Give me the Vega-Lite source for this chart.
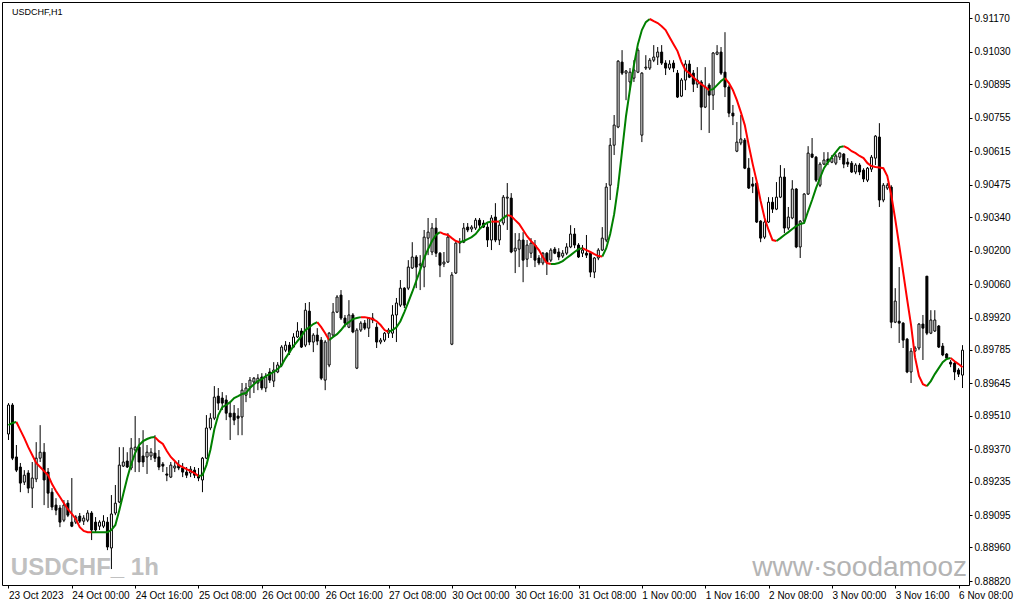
{
"$schema": "https://vega.github.io/schema/vega-lite/v6.json",
"width": 967, "height": 583,
"autosize": {"type": "none"},
"padding": {"left": 2, "top": 2, "right": 46, "bottom": 20},
"background": "white",
"config": {"view": {"stroke": "#000000", "strokeWidth": 1}, "font": "Liberation Sans",
"axis": {"labelOverlap": false, "labelBound": false, "labelFlush": false, "grid": false, "domain": false}},
"datasets": {
"candles": [
{"i":0,"o":0.89434,"h":0.89563,"l":0.89409,"c":0.89555},
{"i":1,"o":0.89555,"h":0.89563,"l":0.89325,"c":0.89333},
{"i":2,"o":0.89338,"h":0.89388,"l":0.89275,"c":0.89283},
{"i":3,"o":0.89296,"h":0.89313,"l":0.89191,"c":0.89229},
{"i":4,"o":0.89233,"h":0.89283,"l":0.89221,"c":0.89262},
{"i":5,"o":0.89271,"h":0.89283,"l":0.89187,"c":0.89208},
{"i":6,"o":0.89208,"h":0.89317,"l":0.89125,"c":0.89250},
{"i":7,"o":0.89246,"h":0.89400,"l":0.89233,"c":0.89333},
{"i":8,"o":0.89333,"h":0.89471,"l":0.89317,"c":0.89358},
{"i":9,"o":0.89358,"h":0.89396,"l":0.89137,"c":0.89242},
{"i":10,"o":0.89275,"h":0.89292,"l":0.89125,"c":0.89187},
{"i":11,"o":0.89191,"h":0.89208,"l":0.89116,"c":0.89129},
{"i":12,"o":0.89137,"h":0.89166,"l":0.89095,"c":0.89116},
{"i":13,"o":0.89125,"h":0.89137,"l":0.89045,"c":0.89066},
{"i":14,"o":0.89074,"h":0.89158,"l":0.89066,"c":0.89137},
{"i":15,"o":0.89145,"h":0.89158,"l":0.89087,"c":0.89095},
{"i":16,"o":0.89066,"h":0.89250,"l":0.89045,"c":0.89049},
{"i":17,"o":0.89066,"h":0.89095,"l":0.89058,"c":0.89087},
{"i":18,"o":0.89091,"h":0.89104,"l":0.89062,"c":0.89070},
{"i":19,"o":0.89070,"h":0.89095,"l":0.89054,"c":0.89083},
{"i":20,"o":0.89074,"h":0.89116,"l":0.89066,"c":0.89104},
{"i":21,"o":0.89104,"h":0.89112,"l":0.88991,"c":0.89033},
{"i":22,"o":0.89066,"h":0.89087,"l":0.89024,"c":0.89033},
{"i":23,"o":0.89049,"h":0.89074,"l":0.89033,"c":0.89066},
{"i":24,"o":0.89049,"h":0.89095,"l":0.89041,"c":0.89070},
{"i":25,"o":0.89066,"h":0.89087,"l":0.88949,"c":0.88962},
{"i":26,"o":0.88958,"h":0.89179,"l":0.88870,"c":0.89100},
{"i":27,"o":0.89104,"h":0.89221,"l":0.89095,"c":0.89145},
{"i":28,"o":0.89150,"h":0.89379,"l":0.89145,"c":0.89304},
{"i":29,"o":0.89300,"h":0.89379,"l":0.89296,"c":0.89317},
{"i":30,"o":0.89321,"h":0.89358,"l":0.89292,"c":0.89296},
{"i":31,"o":0.89292,"h":0.89417,"l":0.89283,"c":0.89375},
{"i":32,"o":0.89367,"h":0.89509,"l":0.89275,"c":0.89379},
{"i":33,"o":0.89379,"h":0.89417,"l":0.89275,"c":0.89317},
{"i":34,"o":0.89342,"h":0.89450,"l":0.89296,"c":0.89317},
{"i":35,"o":0.89338,"h":0.89388,"l":0.89267,"c":0.89358},
{"i":36,"o":0.89342,"h":0.89375,"l":0.89325,"c":0.89358},
{"i":37,"o":0.89354,"h":0.89429,"l":0.89317,"c":0.89333},
{"i":38,"o":0.89338,"h":0.89367,"l":0.89283,"c":0.89296},
{"i":39,"o":0.89308,"h":0.89317,"l":0.89275,"c":0.89300},
{"i":40,"o":0.89267,"h":0.89296,"l":0.89237,"c":0.89262},
{"i":41,"o":0.89254,"h":0.89317,"l":0.89250,"c":0.89304},
{"i":42,"o":0.89292,"h":0.89317,"l":0.89275,"c":0.89300},
{"i":43,"o":0.89304,"h":0.89325,"l":0.89283,"c":0.89292},
{"i":44,"o":0.89292,"h":0.89313,"l":0.89254,"c":0.89275},
{"i":45,"o":0.89275,"h":0.89296,"l":0.89250,"c":0.89262},
{"i":46,"o":0.89271,"h":0.89300,"l":0.89254,"c":0.89287},
{"i":47,"o":0.89283,"h":0.89296,"l":0.89250,"c":0.89262},
{"i":48,"o":0.89262,"h":0.89292,"l":0.89237,"c":0.89250},
{"i":49,"o":0.89242,"h":0.89338,"l":0.89191,"c":0.89333},
{"i":50,"o":0.89333,"h":0.89513,"l":0.89329,"c":0.89459},
{"i":51,"o":0.89459,"h":0.89521,"l":0.89450,"c":0.89500},
{"i":52,"o":0.89500,"h":0.89634,"l":0.89492,"c":0.89588},
{"i":53,"o":0.89592,"h":0.89626,"l":0.89534,"c":0.89563},
{"i":54,"o":0.89584,"h":0.89609,"l":0.89534,"c":0.89563},
{"i":55,"o":0.89576,"h":0.89596,"l":0.89492,"c":0.89521},
{"i":56,"o":0.89521,"h":0.89567,"l":0.89409,"c":0.89505},
{"i":57,"o":0.89521,"h":0.89555,"l":0.89471,"c":0.89492},
{"i":58,"o":0.89509,"h":0.89542,"l":0.89429,"c":0.89500},
{"i":59,"o":0.89505,"h":0.89647,"l":0.89429,"c":0.89617},
{"i":60,"o":0.89596,"h":0.89647,"l":0.89567,"c":0.89626},
{"i":61,"o":0.89630,"h":0.89672,"l":0.89584,"c":0.89659},
{"i":62,"o":0.89651,"h":0.89672,"l":0.89605,"c":0.89667},
{"i":63,"o":0.89647,"h":0.89684,"l":0.89617,"c":0.89667},
{"i":64,"o":0.89672,"h":0.89688,"l":0.89617,"c":0.89626},
{"i":65,"o":0.89626,"h":0.89688,"l":0.89609,"c":0.89672},
{"i":66,"o":0.89693,"h":0.89709,"l":0.89647,"c":0.89659},
{"i":67,"o":0.89655,"h":0.89734,"l":0.89630,"c":0.89701},
{"i":68,"o":0.89693,"h":0.89734,"l":0.89688,"c":0.89722},
{"i":69,"o":0.89722,"h":0.89805,"l":0.89713,"c":0.89797},
{"i":70,"o":0.89784,"h":0.89822,"l":0.89776,"c":0.89805},
{"i":71,"o":0.89805,"h":0.89818,"l":0.89764,"c":0.89776},
{"i":72,"o":0.89797,"h":0.89855,"l":0.89793,"c":0.89839},
{"i":73,"o":0.89839,"h":0.89901,"l":0.89835,"c":0.89864},
{"i":74,"o":0.89864,"h":0.89876,"l":0.89793,"c":0.89797},
{"i":75,"o":0.89805,"h":0.89981,"l":0.89797,"c":0.89951},
{"i":76,"o":0.89947,"h":0.89985,"l":0.89805,"c":0.89818},
{"i":77,"o":0.89818,"h":0.89855,"l":0.89776,"c":0.89847},
{"i":78,"o":0.89847,"h":0.89876,"l":0.89805,"c":0.89822},
{"i":79,"o":0.89826,"h":0.89839,"l":0.89659,"c":0.89667},
{"i":80,"o":0.89659,"h":0.89826,"l":0.89617,"c":0.89818},
{"i":81,"o":0.89722,"h":0.89860,"l":0.89713,"c":0.89855},
{"i":82,"o":0.89847,"h":0.89981,"l":0.89839,"c":0.89943},
{"i":83,"o":0.89943,"h":0.90014,"l":0.89939,"c":0.90006},
{"i":84,"o":0.90014,"h":0.90035,"l":0.89910,"c":0.89918},
{"i":85,"o":0.89918,"h":0.89931,"l":0.89880,"c":0.89897},
{"i":86,"o":0.89880,"h":0.89993,"l":0.89876,"c":0.89931},
{"i":87,"o":0.89931,"h":0.89939,"l":0.89855,"c":0.89860},
{"i":88,"o":0.89709,"h":0.89876,"l":0.89705,"c":0.89868},
{"i":89,"o":0.89868,"h":0.89905,"l":0.89860,"c":0.89897},
{"i":90,"o":0.89897,"h":0.89910,"l":0.89868,"c":0.89876},
{"i":91,"o":0.89876,"h":0.89922,"l":0.89839,"c":0.89918},
{"i":92,"o":0.89918,"h":0.89939,"l":0.89897,"c":0.89910},
{"i":93,"o":0.89880,"h":0.89897,"l":0.89793,"c":0.89818},
{"i":94,"o":0.89818,"h":0.89835,"l":0.89809,"c":0.89826},
{"i":95,"o":0.89826,"h":0.89860,"l":0.89818,"c":0.89855},
{"i":96,"o":0.89855,"h":0.89876,"l":0.89835,"c":0.89868},
{"i":97,"o":0.89855,"h":0.89972,"l":0.89835,"c":0.89931},
{"i":98,"o":0.89931,"h":0.90002,"l":0.89818,"c":0.89981},
{"i":99,"o":0.89972,"h":0.90077,"l":0.89964,"c":0.90043},
{"i":100,"o":0.90043,"h":0.90047,"l":0.89960,"c":0.89972},
{"i":101,"o":0.90043,"h":0.90160,"l":0.90035,"c":0.90131},
{"i":102,"o":0.90127,"h":0.90235,"l":0.90123,"c":0.90173},
{"i":103,"o":0.90173,"h":0.90181,"l":0.90043,"c":0.90131},
{"i":104,"o":0.90139,"h":0.90181,"l":0.90035,"c":0.90144},
{"i":105,"o":0.90131,"h":0.90286,"l":0.90047,"c":0.90256},
{"i":106,"o":0.90252,"h":0.90336,"l":0.90181,"c":0.90277},
{"i":107,"o":0.90194,"h":0.90315,"l":0.90181,"c":0.90294},
{"i":108,"o":0.90294,"h":0.90336,"l":0.90173,"c":0.90189},
{"i":109,"o":0.90189,"h":0.90194,"l":0.90089,"c":0.90139},
{"i":110,"o":0.90144,"h":0.90194,"l":0.90131,"c":0.90152},
{"i":111,"o":0.90152,"h":0.90273,"l":0.90148,"c":0.90256},
{"i":112,"o":0.89809,"h":0.90110,"l":0.89805,"c":0.90098},
{"i":113,"o":0.90106,"h":0.90235,"l":0.90102,"c":0.90231},
{"i":114,"o":0.90231,"h":0.90252,"l":0.90189,"c":0.90235},
{"i":115,"o":0.90235,"h":0.90315,"l":0.90231,"c":0.90294},
{"i":116,"o":0.90298,"h":0.90315,"l":0.90277,"c":0.90286},
{"i":117,"o":0.90290,"h":0.90306,"l":0.90277,"c":0.90298},
{"i":118,"o":0.90294,"h":0.90336,"l":0.90286,"c":0.90327},
{"i":119,"o":0.90327,"h":0.90336,"l":0.90294,"c":0.90306},
{"i":120,"o":0.90315,"h":0.90327,"l":0.90294,"c":0.90298},
{"i":121,"o":0.90298,"h":0.90315,"l":0.90215,"c":0.90244},
{"i":122,"o":0.90244,"h":0.90348,"l":0.90202,"c":0.90336},
{"i":123,"o":0.90340,"h":0.90398,"l":0.90235,"c":0.90244},
{"i":124,"o":0.90244,"h":0.90319,"l":0.90223,"c":0.90306},
{"i":125,"o":0.90315,"h":0.90432,"l":0.90306,"c":0.90423},
{"i":126,"o":0.90419,"h":0.90482,"l":0.90286,"c":0.90423},
{"i":127,"o":0.90419,"h":0.90440,"l":0.90189,"c":0.90194},
{"i":128,"o":0.90198,"h":0.90273,"l":0.90106,"c":0.90210},
{"i":129,"o":0.90206,"h":0.90273,"l":0.90131,"c":0.90244},
{"i":130,"o":0.90244,"h":0.90277,"l":0.90068,"c":0.90160},
{"i":131,"o":0.90164,"h":0.90244,"l":0.90131,"c":0.90223},
{"i":132,"o":0.90189,"h":0.90252,"l":0.90169,"c":0.90231},
{"i":133,"o":0.90223,"h":0.90244,"l":0.90131,"c":0.90160},
{"i":134,"o":0.90169,"h":0.90181,"l":0.90139,"c":0.90148},
{"i":135,"o":0.90148,"h":0.90194,"l":0.90139,"c":0.90189},
{"i":136,"o":0.90189,"h":0.90194,"l":0.90098,"c":0.90152},
{"i":137,"o":0.90160,"h":0.90210,"l":0.90152,"c":0.90202},
{"i":138,"o":0.90206,"h":0.90215,"l":0.90185,"c":0.90189},
{"i":139,"o":0.90194,"h":0.90210,"l":0.90160,"c":0.90173},
{"i":140,"o":0.90177,"h":0.90202,"l":0.90169,"c":0.90189},
{"i":141,"o":0.90189,"h":0.90231,"l":0.90181,"c":0.90215},
{"i":142,"o":0.90215,"h":0.90306,"l":0.90210,"c":0.90269},
{"i":143,"o":0.90269,"h":0.90294,"l":0.90210,"c":0.90223},
{"i":144,"o":0.90223,"h":0.90231,"l":0.90169,"c":0.90173},
{"i":145,"o":0.90189,"h":0.90223,"l":0.90173,"c":0.90202},
{"i":146,"o":0.90189,"h":0.90265,"l":0.90169,"c":0.90181},
{"i":147,"o":0.90189,"h":0.90194,"l":0.90089,"c":0.90110},
{"i":148,"o":0.90110,"h":0.90173,"l":0.90085,"c":0.90169},
{"i":149,"o":0.90169,"h":0.90210,"l":0.90160,"c":0.90202},
{"i":150,"o":0.90202,"h":0.90298,"l":0.90198,"c":0.90252},
{"i":151,"o":0.90244,"h":0.90482,"l":0.90235,"c":0.90465},
{"i":152,"o":0.90473,"h":0.90670,"l":0.90411,"c":0.90640},
{"i":153,"o":0.90640,"h":0.90766,"l":0.90599,"c":0.90724},
{"i":154,"o":0.90716,"h":0.90995,"l":0.90711,"c":0.90991},
{"i":155,"o":0.90987,"h":0.91037,"l":0.90933,"c":0.90941},
{"i":156,"o":0.90941,"h":0.90954,"l":0.90828,"c":0.90950},
{"i":157,"o":0.90904,"h":0.90962,"l":0.90870,"c":0.90945},
{"i":158,"o":0.90920,"h":0.90995,"l":0.90904,"c":0.90954},
{"i":159,"o":0.90945,"h":0.91046,"l":0.90941,"c":0.91037},
{"i":160,"o":0.90682,"h":0.90945,"l":0.90653,"c":0.90941},
{"i":161,"o":0.90962,"h":0.91016,"l":0.90954,"c":0.90966},
{"i":162,"o":0.90962,"h":0.91004,"l":0.90954,"c":0.90995},
{"i":163,"o":0.90995,"h":0.91058,"l":0.90987,"c":0.91008},
{"i":164,"o":0.91008,"h":0.91050,"l":0.90975,"c":0.91029},
{"i":165,"o":0.91029,"h":0.91058,"l":0.90975,"c":0.90983},
{"i":166,"o":0.90983,"h":0.90995,"l":0.90933,"c":0.90962},
{"i":167,"o":0.90962,"h":0.90995,"l":0.90954,"c":0.90979},
{"i":168,"o":0.90983,"h":0.90995,"l":0.90945,"c":0.90962},
{"i":169,"o":0.90941,"h":0.90954,"l":0.90837,"c":0.90841},
{"i":170,"o":0.90845,"h":0.90920,"l":0.90841,"c":0.90912},
{"i":171,"o":0.90912,"h":0.90995,"l":0.90870,"c":0.90979},
{"i":172,"o":0.90979,"h":0.90995,"l":0.90920,"c":0.90924},
{"i":173,"o":0.90941,"h":0.90954,"l":0.90862,"c":0.90895},
{"i":174,"o":0.90895,"h":0.90966,"l":0.90879,"c":0.90912},
{"i":175,"o":0.90904,"h":0.90912,"l":0.90703,"c":0.90799},
{"i":176,"o":0.90799,"h":0.90966,"l":0.90795,"c":0.90883},
{"i":177,"o":0.90891,"h":0.90899,"l":0.90691,"c":0.90849},
{"i":178,"o":0.90849,"h":0.91029,"l":0.90787,"c":0.91025},
{"i":179,"o":0.91020,"h":0.91058,"l":0.91016,"c":0.91029},
{"i":180,"o":0.91029,"h":0.91050,"l":0.90933,"c":0.90941},
{"i":181,"o":0.90945,"h":0.91112,"l":0.90841,"c":0.90883},
{"i":182,"o":0.90883,"h":0.90891,"l":0.90757,"c":0.90774},
{"i":183,"o":0.90774,"h":0.90808,"l":0.90724,"c":0.90762},
{"i":184,"o":0.90615,"h":0.90737,"l":0.90611,"c":0.90653},
{"i":185,"o":0.90649,"h":0.90766,"l":0.90640,"c":0.90666},
{"i":186,"o":0.90661,"h":0.90670,"l":0.90540,"c":0.90544},
{"i":187,"o":0.90544,"h":0.90586,"l":0.90457,"c":0.90461},
{"i":188,"o":0.90478,"h":0.90507,"l":0.90440,"c":0.90469},
{"i":189,"o":0.90482,"h":0.90486,"l":0.90315,"c":0.90319},
{"i":190,"o":0.90323,"h":0.90327,"l":0.90235,"c":0.90252},
{"i":191,"o":0.90256,"h":0.90327,"l":0.90248,"c":0.90319},
{"i":192,"o":0.90319,"h":0.90423,"l":0.90315,"c":0.90402},
{"i":193,"o":0.90402,"h":0.90423,"l":0.90357,"c":0.90373},
{"i":194,"o":0.90373,"h":0.90486,"l":0.90369,"c":0.90423},
{"i":195,"o":0.90423,"h":0.90557,"l":0.90419,"c":0.90507},
{"i":196,"o":0.90507,"h":0.90544,"l":0.90273,"c":0.90294},
{"i":197,"o":0.90294,"h":0.90382,"l":0.90286,"c":0.90340},
{"i":198,"o":0.90336,"h":0.90494,"l":0.90331,"c":0.90457},
{"i":199,"o":0.90457,"h":0.90461,"l":0.90210,"c":0.90215},
{"i":200,"o":0.90215,"h":0.90327,"l":0.90169,"c":0.90323},
{"i":201,"o":0.90323,"h":0.90440,"l":0.90319,"c":0.90436},
{"i":202,"o":0.90436,"h":0.90636,"l":0.90432,"c":0.90607},
{"i":203,"o":0.90603,"h":0.90670,"l":0.90586,"c":0.90590},
{"i":204,"o":0.90590,"h":0.90595,"l":0.90486,"c":0.90494},
{"i":205,"o":0.90473,"h":0.90569,"l":0.90465,"c":0.90561},
{"i":206,"o":0.90561,"h":0.90611,"l":0.90557,"c":0.90578},
{"i":207,"o":0.90582,"h":0.90611,"l":0.90557,"c":0.90569},
{"i":208,"o":0.90569,"h":0.90599,"l":0.90565,"c":0.90586},
{"i":209,"o":0.90565,"h":0.90603,"l":0.90557,"c":0.90595},
{"i":210,"o":0.90590,"h":0.90611,"l":0.90578,"c":0.90607},
{"i":211,"o":0.90603,"h":0.90607,"l":0.90544,"c":0.90561},
{"i":212,"o":0.90569,"h":0.90586,"l":0.90549,"c":0.90561},
{"i":213,"o":0.90565,"h":0.90574,"l":0.90524,"c":0.90528},
{"i":214,"o":0.90528,"h":0.90565,"l":0.90519,"c":0.90557},
{"i":215,"o":0.90557,"h":0.90565,"l":0.90515,"c":0.90528},
{"i":216,"o":0.90536,"h":0.90544,"l":0.90486,"c":0.90499},
{"i":217,"o":0.90494,"h":0.90549,"l":0.90486,"c":0.90544},
{"i":218,"o":0.90540,"h":0.90599,"l":0.90528,"c":0.90590},
{"i":219,"o":0.90586,"h":0.90682,"l":0.90557,"c":0.90678},
{"i":220,"o":0.90674,"h":0.90732,"l":0.90382,"c":0.90411},
{"i":221,"o":0.90411,"h":0.90482,"l":0.90402,"c":0.90473},
{"i":222,"o":0.90461,"h":0.90482,"l":0.90453,"c":0.90473},
{"i":223,"o":0.90465,"h":0.90473,"l":0.89876,"c":0.89901},
{"i":224,"o":0.89901,"h":0.90043,"l":0.89897,"c":0.89989},
{"i":225,"o":0.89905,"h":0.90131,"l":0.89814,"c":0.89897},
{"i":226,"o":0.89897,"h":0.89901,"l":0.89793,"c":0.89826},
{"i":227,"o":0.89830,"h":0.89835,"l":0.89688,"c":0.89693},
{"i":228,"o":0.89693,"h":0.89793,"l":0.89647,"c":0.89780},
{"i":229,"o":0.89780,"h":0.89801,"l":0.89776,"c":0.89793},
{"i":230,"o":0.89793,"h":0.89897,"l":0.89784,"c":0.89893},
{"i":231,"o":0.89893,"h":0.89931,"l":0.89743,"c":0.89876},
{"i":232,"o":0.90093,"h":0.90093,"l":0.89847,"c":0.89855},
{"i":233,"o":0.89855,"h":0.89951,"l":0.89851,"c":0.89910},
{"i":234,"o":0.89864,"h":0.89951,"l":0.89860,"c":0.89910},
{"i":235,"o":0.89885,"h":0.89889,"l":0.89793,"c":0.89797},
{"i":236,"o":0.89801,"h":0.89814,"l":0.89759,"c":0.89764},
{"i":237,"o":0.89768,"h":0.89772,"l":0.89743,"c":0.89751},
{"i":238,"o":0.89734,"h":0.89743,"l":0.89713,"c":0.89726},
{"i":239,"o":0.89730,"h":0.89734,"l":0.89659,"c":0.89693},
{"i":240,"o":0.89701,"h":0.89709,"l":0.89672,"c":0.89684},
{"i":241,"o":0.89680,"h":0.89805,"l":0.89626,"c":0.89784}
],
"ma": [
{"i":0,"m":0.89471,"s":1,"d":"up"},{"i":1,"m":0.89480,"s":1,"d":"up"},{"i":2,"m":0.89484,"s":1,"d":"up"},
{"i":2,"m":0.89484,"s":2,"d":"dn"},{"i":3,"m":0.89450,"s":2,"d":"dn"},{"i":4,"m":0.89417,"s":2,"d":"dn"},{"i":5,"m":0.89379,"s":2,"d":"dn"},{"i":6,"m":0.89346,"s":2,"d":"dn"},{"i":7,"m":0.89313,"s":2,"d":"dn"},{"i":8,"m":0.89296,"s":2,"d":"dn"},{"i":9,"m":0.89279,"s":2,"d":"dn"},{"i":10,"m":0.89262,"s":2,"d":"dn"},{"i":11,"m":0.89225,"s":2,"d":"dn"},{"i":12,"m":0.89196,"s":2,"d":"dn"},{"i":13,"m":0.89171,"s":2,"d":"dn"},{"i":14,"m":0.89145,"s":2,"d":"dn"},{"i":15,"m":0.89120,"s":2,"d":"dn"},{"i":16,"m":0.89100,"s":2,"d":"dn"},{"i":17,"m":0.89079,"s":2,"d":"dn"},{"i":18,"m":0.89045,"s":2,"d":"dn"},{"i":19,"m":0.89029,"s":2,"d":"dn"},{"i":20,"m":0.89024,"s":2,"d":"dn"},{"i":21,"m":0.89024,"s":2,"d":"dn"},
{"i":21,"m":0.89024,"s":3,"d":"up"},{"i":22,"m":0.89024,"s":3,"d":"up"},{"i":23,"m":0.89024,"s":3,"d":"up"},{"i":24,"m":0.89024,"s":3,"d":"up"},{"i":25,"m":0.89024,"s":3,"d":"up"},{"i":26,"m":0.89033,"s":3,"d":"up"},{"i":27,"m":0.89054,"s":3,"d":"up"},{"i":28,"m":0.89116,"s":3,"d":"up"},{"i":29,"m":0.89183,"s":3,"d":"up"},{"i":30,"m":0.89250,"s":3,"d":"up"},{"i":31,"m":0.89308,"s":3,"d":"up"},{"i":32,"m":0.89354,"s":3,"d":"up"},{"i":33,"m":0.89388,"s":3,"d":"up"},{"i":34,"m":0.89404,"s":3,"d":"up"},{"i":35,"m":0.89413,"s":3,"d":"up"},{"i":36,"m":0.89419,"s":3,"d":"up"},{"i":37,"m":0.89421,"s":3,"d":"up"},
{"i":37,"m":0.89421,"s":4,"d":"dn"},{"i":38,"m":0.89404,"s":4,"d":"dn"},{"i":39,"m":0.89392,"s":4,"d":"dn"},{"i":40,"m":0.89363,"s":4,"d":"dn"},{"i":41,"m":0.89338,"s":4,"d":"dn"},{"i":42,"m":0.89321,"s":4,"d":"dn"},{"i":43,"m":0.89304,"s":4,"d":"dn"},{"i":44,"m":0.89296,"s":4,"d":"dn"},{"i":45,"m":0.89287,"s":4,"d":"dn"},{"i":46,"m":0.89279,"s":4,"d":"dn"},{"i":47,"m":0.89271,"s":4,"d":"dn"},{"i":48,"m":0.89258,"s":4,"d":"dn"},
{"i":48,"m":0.89258,"s":5,"d":"up"},{"i":49,"m":0.89262,"s":5,"d":"up"},{"i":50,"m":0.89304,"s":5,"d":"up"},{"i":51,"m":0.89367,"s":5,"d":"up"},{"i":52,"m":0.89454,"s":5,"d":"up"},{"i":53,"m":0.89513,"s":5,"d":"up"},{"i":54,"m":0.89546,"s":5,"d":"up"},{"i":55,"m":0.89555,"s":5,"d":"up"},{"i":56,"m":0.89567,"s":5,"d":"up"},{"i":57,"m":0.89584,"s":5,"d":"up"},{"i":58,"m":0.89592,"s":5,"d":"up"},{"i":59,"m":0.89601,"s":5,"d":"up"},{"i":60,"m":0.89605,"s":5,"d":"up"},{"i":61,"m":0.89626,"s":5,"d":"up"},{"i":62,"m":0.89642,"s":5,"d":"up"},{"i":63,"m":0.89655,"s":5,"d":"up"},{"i":64,"m":0.89663,"s":5,"d":"up"},{"i":65,"m":0.89676,"s":5,"d":"up"},{"i":66,"m":0.89684,"s":5,"d":"up"},{"i":67,"m":0.89693,"s":5,"d":"up"},{"i":68,"m":0.89705,"s":5,"d":"up"},{"i":69,"m":0.89722,"s":5,"d":"up"},{"i":70,"m":0.89751,"s":5,"d":"up"},{"i":71,"m":0.89776,"s":5,"d":"up"},{"i":72,"m":0.89801,"s":5,"d":"up"},{"i":73,"m":0.89822,"s":5,"d":"up"},{"i":74,"m":0.89843,"s":5,"d":"up"},{"i":75,"m":0.89868,"s":5,"d":"up"},{"i":76,"m":0.89880,"s":5,"d":"up"},{"i":77,"m":0.89893,"s":5,"d":"up"},{"i":78,"m":0.89901,"s":5,"d":"up"},
{"i":78,"m":0.89901,"s":6,"d":"dn"},{"i":79,"m":0.89880,"s":6,"d":"dn"},{"i":80,"m":0.89855,"s":6,"d":"dn"},{"i":81,"m":0.89826,"s":6,"d":"dn"},
{"i":81,"m":0.89826,"s":7,"d":"up"},{"i":82,"m":0.89839,"s":7,"d":"up"},{"i":83,"m":0.89851,"s":7,"d":"up"},{"i":84,"m":0.89868,"s":7,"d":"up"},{"i":85,"m":0.89889,"s":7,"d":"up"},{"i":86,"m":0.89901,"s":7,"d":"up"},{"i":87,"m":0.89914,"s":7,"d":"up"},{"i":88,"m":0.89918,"s":7,"d":"up"},{"i":89,"m":0.89922,"s":7,"d":"up"},
{"i":89,"m":0.89922,"s":8,"d":"dn"},{"i":90,"m":0.89922,"s":8,"d":"dn"},{"i":91,"m":0.89918,"s":8,"d":"dn"},{"i":92,"m":0.89914,"s":8,"d":"dn"},{"i":93,"m":0.89905,"s":8,"d":"dn"},{"i":94,"m":0.89889,"s":8,"d":"dn"},{"i":95,"m":0.89868,"s":8,"d":"dn"},{"i":96,"m":0.89860,"s":8,"d":"dn"},
{"i":96,"m":0.89860,"s":9,"d":"up"},{"i":97,"m":0.89868,"s":9,"d":"up"},{"i":98,"m":0.89880,"s":9,"d":"up"},{"i":99,"m":0.89905,"s":9,"d":"up"},{"i":100,"m":0.89943,"s":9,"d":"up"},{"i":101,"m":0.89985,"s":9,"d":"up"},{"i":102,"m":0.90027,"s":9,"d":"up"},{"i":103,"m":0.90073,"s":9,"d":"up"},{"i":104,"m":0.90118,"s":9,"d":"up"},{"i":105,"m":0.90169,"s":9,"d":"up"},{"i":106,"m":0.90206,"s":9,"d":"up"},{"i":107,"m":0.90240,"s":9,"d":"up"},{"i":108,"m":0.90265,"s":9,"d":"up"},{"i":109,"m":0.90277,"s":9,"d":"up"},
{"i":109,"m":0.90277,"s":10,"d":"dn"},{"i":110,"m":0.90269,"s":10,"d":"dn"},{"i":111,"m":0.90265,"s":10,"d":"dn"},{"i":112,"m":0.90252,"s":10,"d":"dn"},{"i":113,"m":0.90240,"s":10,"d":"dn"},{"i":114,"m":0.90235,"s":10,"d":"dn"},
{"i":114,"m":0.90235,"s":11,"d":"up"},{"i":115,"m":0.90240,"s":11,"d":"up"},{"i":116,"m":0.90248,"s":11,"d":"up"},{"i":117,"m":0.90256,"s":11,"d":"up"},{"i":118,"m":0.90269,"s":11,"d":"up"},{"i":119,"m":0.90290,"s":11,"d":"up"},{"i":120,"m":0.90306,"s":11,"d":"up"},{"i":121,"m":0.90317,"s":11,"d":"up"},{"i":122,"m":0.90321,"s":11,"d":"up"},
{"i":122,"m":0.90321,"s":12,"d":"dn"},{"i":123,"m":0.90321,"s":12,"d":"dn"},{"i":124,"m":0.90321,"s":12,"d":"dn"},
{"i":124,"m":0.90321,"s":13,"d":"up"},{"i":125,"m":0.90336,"s":13,"d":"up"},{"i":126,"m":0.90348,"s":13,"d":"up"},
{"i":126,"m":0.90348,"s":14,"d":"dn"},{"i":127,"m":0.90344,"s":14,"d":"dn"},{"i":128,"m":0.90327,"s":14,"d":"dn"},{"i":129,"m":0.90311,"s":14,"d":"dn"},{"i":130,"m":0.90286,"s":14,"d":"dn"},{"i":131,"m":0.90260,"s":14,"d":"dn"},{"i":132,"m":0.90240,"s":14,"d":"dn"},{"i":133,"m":0.90223,"s":14,"d":"dn"},{"i":134,"m":0.90202,"s":14,"d":"dn"},{"i":135,"m":0.90173,"s":14,"d":"dn"},{"i":136,"m":0.90148,"s":14,"d":"dn"},{"i":137,"m":0.90144,"s":14,"d":"dn"},
{"i":137,"m":0.90144,"s":15,"d":"up"},{"i":138,"m":0.90144,"s":15,"d":"up"},{"i":139,"m":0.90148,"s":15,"d":"up"},{"i":140,"m":0.90156,"s":15,"d":"up"},{"i":141,"m":0.90169,"s":15,"d":"up"},{"i":142,"m":0.90181,"s":15,"d":"up"},{"i":143,"m":0.90194,"s":15,"d":"up"},{"i":144,"m":0.90206,"s":15,"d":"up"},{"i":145,"m":0.90210,"s":15,"d":"up"},
{"i":145,"m":0.90210,"s":16,"d":"dn"},{"i":146,"m":0.90202,"s":16,"d":"dn"},{"i":147,"m":0.90194,"s":16,"d":"dn"},{"i":148,"m":0.90185,"s":16,"d":"dn"},{"i":149,"m":0.90177,"s":16,"d":"dn"},{"i":150,"m":0.90175,"s":16,"d":"dn"},
{"i":150,"m":0.90175,"s":17,"d":"up"},{"i":151,"m":0.90210,"s":17,"d":"up"},{"i":152,"m":0.90269,"s":17,"d":"up"},{"i":153,"m":0.90352,"s":17,"d":"up"},{"i":154,"m":0.90469,"s":17,"d":"up"},{"i":155,"m":0.90615,"s":17,"d":"up"},{"i":156,"m":0.90762,"s":17,"d":"up"},{"i":157,"m":0.90874,"s":17,"d":"up"},{"i":158,"m":0.90975,"s":17,"d":"up"},{"i":159,"m":0.91062,"s":17,"d":"up"},{"i":160,"m":0.91121,"s":17,"d":"up"},{"i":161,"m":0.91154,"s":17,"d":"up"},{"i":162,"m":0.91167,"s":17,"d":"up"},
{"i":162,"m":0.91167,"s":18,"d":"dn"},{"i":163,"m":0.91158,"s":18,"d":"dn"},{"i":164,"m":0.91150,"s":18,"d":"dn"},{"i":165,"m":0.91137,"s":18,"d":"dn"},{"i":166,"m":0.91121,"s":18,"d":"dn"},{"i":167,"m":0.91091,"s":18,"d":"dn"},{"i":168,"m":0.91062,"s":18,"d":"dn"},{"i":169,"m":0.91033,"s":18,"d":"dn"},{"i":170,"m":0.90987,"s":18,"d":"dn"},{"i":171,"m":0.90954,"s":18,"d":"dn"},{"i":172,"m":0.90941,"s":18,"d":"dn"},{"i":173,"m":0.90924,"s":18,"d":"dn"},{"i":174,"m":0.90908,"s":18,"d":"dn"},{"i":175,"m":0.90895,"s":18,"d":"dn"},{"i":176,"m":0.90883,"s":18,"d":"dn"},{"i":177,"m":0.90870,"s":18,"d":"dn"},
{"i":177,"m":0.90870,"s":19,"d":"up"},{"i":178,"m":0.90874,"s":19,"d":"up"},{"i":179,"m":0.90891,"s":19,"d":"up"},{"i":180,"m":0.90908,"s":19,"d":"up"},{"i":181,"m":0.90920,"s":19,"d":"up"},
{"i":181,"m":0.90920,"s":20,"d":"dn"},{"i":182,"m":0.90899,"s":20,"d":"dn"},{"i":183,"m":0.90870,"s":20,"d":"dn"},{"i":184,"m":0.90828,"s":20,"d":"dn"},{"i":185,"m":0.90778,"s":20,"d":"dn"},{"i":186,"m":0.90724,"s":20,"d":"dn"},{"i":187,"m":0.90640,"s":20,"d":"dn"},{"i":188,"m":0.90561,"s":20,"d":"dn"},{"i":189,"m":0.90490,"s":20,"d":"dn"},{"i":190,"m":0.90407,"s":20,"d":"dn"},{"i":191,"m":0.90336,"s":20,"d":"dn"},{"i":192,"m":0.90286,"s":20,"d":"dn"},{"i":193,"m":0.90244,"s":20,"d":"dn"},{"i":194,"m":0.90240,"s":20,"d":"dn"},
{"i":194,"m":0.90240,"s":21,"d":"up"},{"i":195,"m":0.90252,"s":21,"d":"up"},{"i":196,"m":0.90265,"s":21,"d":"up"},{"i":197,"m":0.90277,"s":21,"d":"up"},{"i":198,"m":0.90290,"s":21,"d":"up"},{"i":199,"m":0.90302,"s":21,"d":"up"},{"i":200,"m":0.90311,"s":21,"d":"up"},{"i":201,"m":0.90315,"s":21,"d":"up"},{"i":202,"m":0.90365,"s":21,"d":"up"},{"i":203,"m":0.90411,"s":21,"d":"up"},{"i":204,"m":0.90461,"s":21,"d":"up"},{"i":205,"m":0.90503,"s":21,"d":"up"},{"i":206,"m":0.90544,"s":21,"d":"up"},{"i":207,"m":0.90569,"s":21,"d":"up"},{"i":208,"m":0.90590,"s":21,"d":"up"},{"i":209,"m":0.90611,"s":21,"d":"up"},{"i":210,"m":0.90632,"s":21,"d":"up"},{"i":211,"m":0.90636,"s":21,"d":"up"},
{"i":211,"m":0.90636,"s":22,"d":"dn"},{"i":212,"m":0.90628,"s":22,"d":"dn"},{"i":213,"m":0.90615,"s":22,"d":"dn"},{"i":214,"m":0.90607,"s":22,"d":"dn"},{"i":215,"m":0.90595,"s":22,"d":"dn"},{"i":216,"m":0.90586,"s":22,"d":"dn"},{"i":217,"m":0.90565,"s":22,"d":"dn"},{"i":218,"m":0.90553,"s":22,"d":"dn"},{"i":219,"m":0.90549,"s":22,"d":"dn"},{"i":220,"m":0.90547,"s":22,"d":"dn"},{"i":221,"m":0.90544,"s":22,"d":"dn"},{"i":222,"m":0.90511,"s":22,"d":"dn"},{"i":223,"m":0.90432,"s":22,"d":"dn"},{"i":224,"m":0.90331,"s":22,"d":"dn"},{"i":225,"m":0.90223,"s":22,"d":"dn"},{"i":226,"m":0.90110,"s":22,"d":"dn"},{"i":227,"m":0.89997,"s":22,"d":"dn"},{"i":228,"m":0.89889,"s":22,"d":"dn"},{"i":229,"m":0.89755,"s":22,"d":"dn"},{"i":230,"m":0.89676,"s":22,"d":"dn"},{"i":231,"m":0.89642,"s":22,"d":"dn"},{"i":232,"m":0.89634,"s":22,"d":"dn"},
{"i":232,"m":0.89634,"s":23,"d":"up"},{"i":233,"m":0.89655,"s":23,"d":"up"},{"i":234,"m":0.89684,"s":23,"d":"up"},{"i":235,"m":0.89709,"s":23,"d":"up"},{"i":236,"m":0.89734,"s":23,"d":"up"},{"i":237,"m":0.89747,"s":23,"d":"up"},{"i":238,"m":0.89751,"s":23,"d":"up"},
{"i":238,"m":0.89751,"s":24,"d":"dn"},{"i":239,"m":0.89738,"s":24,"d":"dn"},{"i":240,"m":0.89726,"s":24,"d":"dn"},{"i":241,"m":0.89713,"s":24,"d":"dn"}
]
},
"layer": [
{
"data": {"name": "candles"},
"mark": {"type": "rule", "color": "#000000", "strokeWidth": 1},
"encoding": {
"x": {"field": "i", "type": "quantitative", "title": null, "scale": {"domain": [-0.375, 241.375], "nice": false, "zero": false},
"axis": {"orient": "bottom", "values": [0,16,32,48,64,80,96,112,128,144,160,176,192,208,224,240], "tickCount": 40,
"labelExpr": "['23 Oct 2023','24 Oct 00:00','24 Oct 16:00','25 Oct 08:00','26 Oct 00:00','26 Oct 16:00','27 Oct 08:00','30 Oct 00:00','30 Oct 16:00','31 Oct 08:00','1 Nov 00:00','1 Nov 16:00','2 Nov 08:00','3 Nov 00:00','3 Nov 16:00','6 Nov 08:00'][round(datum.value/16)]",
"title": null, "domain": false, "grid": false, "ticks": true, "tickSize": 3, "tickColor": "#000000", "tickWidth": 1,
"labelAlign": "left", "labelBaseline": "top", "labelPadding": 2, "labelDx": -1, "labelFontSize": 10, "labelColor": "#000000", "labelFont": "Liberation Sans",
"labelOverlap": false, "labelBound": false, "labelFlush": false}},
"y": {"field": "l", "type": "quantitative", "title": null, "scale": {"domain": [0.888034, 0.91238], "nice": false, "zero": false},
"axis": {"orient": "right", "values": [0.8882,0.8896,0.89095,0.89235,0.8937,0.8951,0.89645,0.89785,0.8992,0.9006,0.902,0.9034,0.90475,0.90615,0.90755,0.90895,0.9103,0.9117], "tickCount": 40,
"format": ".5f", "title": null, "domain": false, "grid": false, "tickSize": 3, "tickColor": "#000000", "tickWidth": 1,
"labelPadding": 2, "labelFontSize": 10, "labelColor": "#000000", "labelFont": "Liberation Sans", "labelBaseline": "middle",
"labelOverlap": false, "labelBound": false, "labelFlush": false}},
"y2": {"field": "h"}
}
},
{
"data": {"values": [{"t": "USDCHF_ 1h"}]},
"mark": {"type": "text", "align": "left", "baseline": "alphabetic", "fontSize": 24, "fontWeight": "bold", "font": "Liberation Sans", "color": "#c0c0c0"},
"encoding": {
"x": {"datum": 0.6, "type": "quantitative", "title": null},
"y": {"datum": 0.888452, "type": "quantitative", "title": null},
"text": {"field": "t"}
}
},
{
"data": {"values": [{"t": "www·soodamooz·com"}]},
"mark": {"type": "text", "align": "left", "baseline": "alphabetic", "fontSize": 28, "font": "Liberation Sans", "color": "#b4b4b4", "clip": true},
"encoding": {
"x": {"datum": 187.9, "type": "quantitative", "title": null},
"y": {"datum": 0.88841, "type": "quantitative", "title": null},
"text": {"field": "t"}
}
},
{
"data": {"values": [{"t": "USDCHF,H1"}]},
"mark": {"type": "text", "align": "left", "baseline": "alphabetic", "fontSize": 9, "font": "Liberation Sans", "color": "#000000"},
"encoding": {
"x": {"datum": 0.875, "type": "quantitative", "title": null},
"y": {"datum": 0.911838, "type": "quantitative", "title": null},
"text": {"field": "t"}
}
},
{
"data": {"name": "candles"},
"mark": {"type": "bar", "size": 2, "stroke": "#000000", "strokeWidth": 1, "orient": "vertical"},
"encoding": {
"x": {"field": "i", "type": "quantitative", "title": null},
"y": {"field": "o", "type": "quantitative", "title": null},
"y2": {"field": "c"},
"fill": {"condition": {"test": "datum.c >= datum.o", "value": "#ffffff"}, "value": "#000000"}
}
},
{
"data": {"name": "ma"},
"mark": {"type": "line", "strokeWidth": 2},
"encoding": {
"x": {"field": "i", "type": "quantitative", "title": null},
"y": {"field": "m", "type": "quantitative", "title": null},
"detail": {"field": "s", "type": "nominal"},
"color": {"field": "d", "type": "nominal", "scale": {"domain": ["up", "dn"], "range": ["#008000", "#ff0000"]}, "legend": null},
"order": {"field": "i", "type": "quantitative"}
}
}
]
}
